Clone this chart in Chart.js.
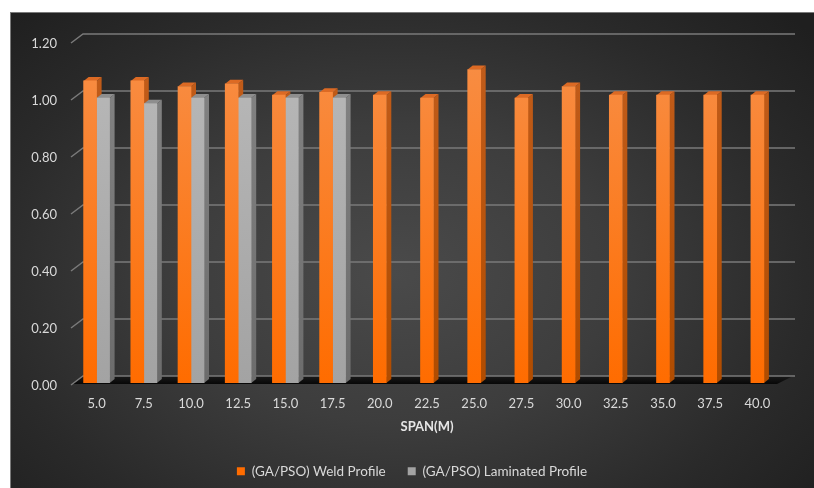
<!DOCTYPE html>
<html>
<head>
<meta charset="utf-8">
<script src="https://cdn.jsdelivr.net/npm/chart.js@4.4.1/dist/chart.umd.min.js"></script>
<style>
  html, body { margin: 0; padding: 0; background: #fff; }
  #wrap {
    position: absolute; left: 10px; top: 12px; width: 804px; height: 476px;
    background: radial-gradient(ellipse 68% 78% at 48% 55%, #4a4a4a 0%, #3d3d3d 40%, #2a2a2a 75%, #1f1f1f 100%);
    box-shadow: inset 1px 1px 0 #7a7a7a;
  }
  canvas { display: block; }
</style>
</head>
<body>
<div id="wrap"><canvas id="chart" width="804" height="476"></canvas></div>
<script>
// data
const spans = ['5.0', '7.5', '10.0', '12.5', '15.0', '17.5', '20.0', '22.5', '25.0', '27.5', '30.0', '32.5', '35.0', '37.5', '40.0'];
const weldProfile = [1.06, 1.06, 1.04, 1.05, 1.01, 1.02, 1.01, 1.00, 1.10, 1.00, 1.04, 1.01, 1.01, 1.01, 1.01];
const laminatedProfile = [1.00, 0.98, 1.00, 1.00, 1.00, 1.00, null, null, null, null, null, null, null, null, null];
const yMin = 0, yMax = 1.2, yStep = 0.2;

const TXT = '#d9d9d9';
const DX = 5, DY = 4;       // bar depth
const BX = 10, BY = 7;      // back wall offset

// front faces get a vertical gradient
function faceFill(top, bottom, solid) {
  return function (ctx) {
    const area = ctx.chart.chartArea;
    if (ctx.type === 'dataset' || !area) return solid;
    const g = ctx.chart.ctx.createLinearGradient(0, area.top, 0, area.bottom);
    g.addColorStop(0, top);
    g.addColorStop(1, bottom);
    return g;
  };
}

const sideColors = [['#c25d1c', '#b04c00'], ['#858585', '#6c6c6c']];
const topColors = ['#dc6a24', '#8e8e8e'];

// fake 3D: back wall grid, floor, bar sides and tops
const depthPlugin = {
  id: 'depth3d',
  beforeDatasetsDraw(chart) {
    const c = chart.ctx;
    const { left, right, bottom, top } = chart.chartArea;
    const ys = chart.scales.y;
    c.save();

    // floor
    const fg = c.createLinearGradient(0, bottom - BY, 0, bottom + 2);
    fg.addColorStop(0, '#1a1a1a');
    fg.addColorStop(1, '#050505');
    c.fillStyle = fg;
    c.beginPath();
    c.moveTo(left, bottom + 1);
    c.lineTo(right - 4, bottom + 1);
    c.lineTo(right + BX + 2, bottom - BY);
    c.lineTo(left + BX, bottom - BY);
    c.closePath();
    c.fill();

    // grid lines
    c.strokeStyle = '#7a7a7a';
    c.lineWidth = 1.5;
    ys.ticks.forEach(t => {
      const yf = ys.getPixelForValue(t.value);
      c.beginPath();
      c.moveTo(left - 2, yf + 2);
      c.lineTo(left + BX, yf - BY);
      c.lineTo(right + 14, yf - BY);
      c.stroke();
    });

    // bar sides and tops
    chart.data.datasets.forEach((ds, di) => {
      const meta = chart.getDatasetMeta(di);
      meta.data.forEach((el, i) => {
        if (ds.data[i] == null) return;
        const p = el.getProps(['x', 'y', 'base', 'width'], true);
        const xl = p.x - p.width / 2, xr = p.x + p.width / 2;
        const sg = c.createLinearGradient(0, top, 0, bottom);
        sg.addColorStop(0, sideColors[di][0]);
        sg.addColorStop(1, sideColors[di][1]);
        c.fillStyle = sg;
        c.beginPath();
        c.moveTo(xr, p.y);
        c.lineTo(xr + DX, p.y - DY);
        c.lineTo(xr + DX, p.base - DY);
        c.lineTo(xr, p.base);
        c.closePath();
        c.fill();
        c.fillStyle = topColors[di];
        c.beginPath();
        c.moveTo(xl, p.y);
        c.lineTo(xl + DX, p.y - DY);
        c.lineTo(xr + DX, p.y - DY);
        c.lineTo(xr, p.y);
        c.closePath();
        c.fill();
      });
    });
    c.restore();
  }
};

new Chart(document.getElementById('chart'), {
  type: 'bar',
  data: {
    labels: spans,
    datasets: [{
      label: '(GA/PSO) Weld Profile',
      data: weldProfile,
      backgroundColor: faceFill('#f78f48', '#ff6c00', '#f27424'),
      borderWidth: 0,
      barThickness: 13,
      skipNull: true
    }, {
      label: '(GA/PSO) Laminated Profile',
      data: laminatedProfile,
      backgroundColor: faceFill('#b9b9b9', '#a3a3a3', '#a5a5a5'),
      borderWidth: 0,
      barThickness: 13,
      skipNull: true
    }]
  },
  options: {
    responsive: false,
    animation: false,
    layout: { padding: { top: 29, right: 0, bottom: 0, left: 0 } },
    plugins: {
      tooltip: { enabled: false },
      legend: {
        position: 'bottom',
        labels: {
          color: TXT,
          boxWidth: 8,
          boxHeight: 8,
          padding: 22,
          font: { family: 'Lato', size: 13.5 }
        }
      }
    },
    scales: {
      x: {
        grid: { display: false, drawTicks: false },
        border: { display: false },
        ticks: { color: TXT, padding: 13, maxRotation: 0, font: { family: 'Lato', size: 13 } },
        title: {
          display: true,
          text: 'SPAN(M)',
          color: '#e6e6e6',
          font: { family: 'Lato', size: 13, weight: 'bold' },
          padding: { top: 0, bottom: 7.5 }
        },
        afterFit(scale) { scale.height = 59.5; }
      },
      y: {
        min: yMin,
        max: yMax,
        grid: { display: false, drawTicks: false },
        border: { display: false },
        ticks: {
          stepSize: yStep,
          color: TXT,
          padding: 16,
          labelOffset: 3,
          font: { family: 'Lato', size: 13 },
          callback: v => v.toFixed(2)
        },
        afterFit(scale) { scale.width = 63; }
      },
      // empty right margin so the legend centres like the original
      yPad: {
        position: 'right',
        grid: { display: false, drawTicks: false },
        border: { display: false },
        ticks: { display: false },
        afterFit(scale) { scale.width = 33; }
      }
    }
  },
  plugins: [depthPlugin]
});
</script>
</body>
</html>
